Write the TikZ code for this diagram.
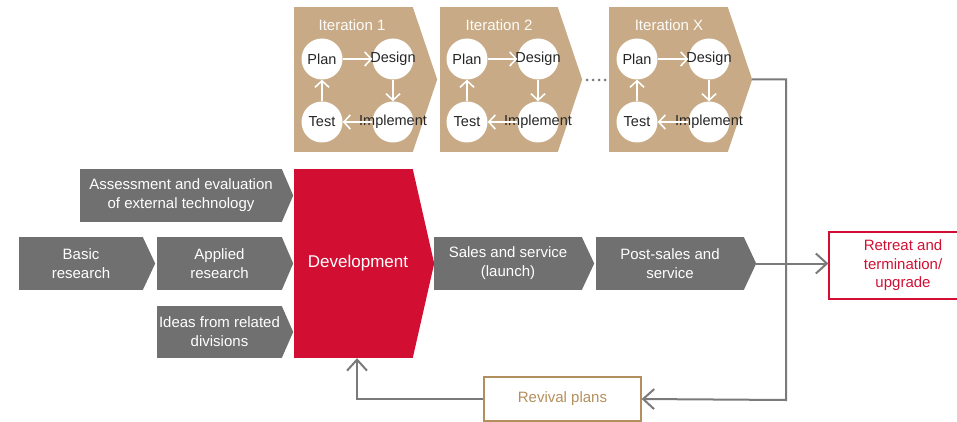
\documentclass[tikz,border=0pt]{standalone}
\usepackage{fontspec}
\setmainfont{Liberation Sans}
\usetikzlibrary{arrows.meta}

\definecolor{boxgray}{HTML}{707070}
\definecolor{devred}{HTML}{D20F33}
\definecolor{itertan}{HTML}{C8AB86}
\definecolor{revtan}{HTML}{B48F5E}
\definecolor{linegray}{HTML}{7A7A7A}

\tikzset{
  chevbox/.style={rectangle, inner sep=0pt, text=white, align=center,
    font=\fontsize{15}{19}\selectfont},
  stepcircle/.style={circle, fill=white, minimum size=41pt, inner sep=0pt},
  steplabel/.style={text=black!85, font=\fontsize{14.5}{17}\selectfont},
  iterlabel/.style={text=white!95!itertan, font=\fontsize{15}{18}\selectfont},
  looparrow/.style={draw=white, line width=1.6pt, -{Straight Barb[length=6.5pt,width=14pt]}},
  flow/.style={draw=linegray, line width=2pt, -{Straight Barb[length=11pt,width=20pt]}},
  endbox/.style={rectangle, line width=1.3pt, align=center,
    font=\fontsize{15}{18.5}\selectfont}
}

% name, left, top, right, bottom, tip, colour, text
\newcommand{\chevron}[8]{%
  \node[chevbox, fill=#7, minimum width=#4pt-#2pt, minimum height=#5pt-#3pt]
    (#1) at ({(#2+#4)/2},{(#3+#5)/2}) {#8};
  \fill[#7] ([xshift=-0.5pt]#1.north east) -- ([xshift=#6pt]#1.east)
    -- ([xshift=-0.5pt]#1.south east) -- cycle;
  \coordinate (#1-tip) at ([xshift=#6pt]#1.east);}

\begin{document}
\begin{tikzpicture}[x=1pt, y=-1pt]
  \useasboundingbox (0,0) rectangle (957,422);

  % Iteration 1
  \begin{scope}[xshift=294]
    \chevron{it1}{0}{7}{119}{152}{24}{itertan}{}
    \node[iterlabel] (lab1) at (58,25) {Iteration 1};
    \node[stepcircle, label={[steplabel]center:Plan}] (plan1) at (28,59) {};
    \node[stepcircle, label={[steplabel]center:Design}] (design1) at (99,59) {};
    \node[stepcircle, label={[steplabel]center:Test}] (test1) at (28,122) {};
    \node[stepcircle, label={[steplabel]center:Implement}] (impl1) at (99,122) {};
    \draw[looparrow] (plan1) -- (design1);
    \draw[looparrow] (design1) -- (impl1);
    \draw[looparrow] (impl1) -- (test1);
    \draw[looparrow] (test1) -- (plan1);
  \end{scope}

  % Iteration 2
  \begin{scope}[xshift=440]
    \chevron{it2}{0}{7}{118}{152}{24}{itertan}{}
    \node[iterlabel] (lab2) at (59,25) {Iteration 2};
    \node[stepcircle, label={[steplabel]center:Plan}] (plan2) at (27,59) {};
    \node[stepcircle, label={[steplabel]center:Design}] (design2) at (98,59) {};
    \node[stepcircle, label={[steplabel]center:Test}] (test2) at (27,122) {};
    \node[stepcircle, label={[steplabel]center:Implement}] (impl2) at (98,122) {};
    \draw[looparrow] (plan2) -- (design2);
    \draw[looparrow] (design2) -- (impl2);
    \draw[looparrow] (impl2) -- (test2);
    \draw[looparrow] (test2) -- (plan2);
  \end{scope}

  % dots between the iterations
  \foreach \x in {587,593,599,605}
    \fill[linegray] (\x,80) circle (1.5);

  % Iteration X
  \begin{scope}[xshift=609]
    \chevron{itX}{0}{7}{119}{152}{24}{itertan}{}
    \node[iterlabel] (labX) at (60,25) {Iteration X};
    \node[stepcircle, label={[steplabel]center:Plan}] (planX) at (28,59) {};
    \node[stepcircle, label={[steplabel]center:Design}] (designX) at (100,59) {};
    \node[stepcircle, label={[steplabel]center:Test}] (testX) at (28,122) {};
    \node[stepcircle, label={[steplabel]center:Implement}] (implX) at (100,122) {};
    \draw[looparrow] (planX) -- (designX);
    \draw[looparrow] (designX) -- (implX);
    \draw[looparrow] (implX) -- (testX);
    \draw[looparrow] (testX) -- (planX);
  \end{scope}

  % Research and inputs
  \chevron{basic}{19}{237}{143}{290}{12}{boxgray}{Basic\\research}
  \chevron{applied}{157}{237}{282}{290}{11}{boxgray}{Applied\\research}
  \chevron{assess}{80}{169}{282}{222}{11}{boxgray}{Assessment and evaluation\\of external technology}
  \chevron{ideas}{157}{306}{282}{358}{11}{boxgray}{Ideas from related\\divisions}

  % Development and market
  \chevron{dev}{294}{169}{413}{358}{21}{devred}{\fontsize{17}{20}\selectfont\hspace*{9pt}Development}
  \chevron{sales}{434}{237}{582}{290}{12}{boxgray}{Sales and service\\(launch)}
  \chevron{post}{596}{237}{744}{290}{12}{boxgray}{Post-sales and\\service}

  % End boxes
  \node[endbox, draw=devred, text=devred, minimum width=148pt, minimum height=67pt]
    (retreat) at (903,265.5) {Retreat and\\termination/\\upgrade};
  \node[endbox, draw=revtan, text=revtan, minimum width=157pt, minimum height=44pt]
    (revival) at (562.5,399) {Revival plans};

  % Connectors
  \coordinate (loopturn) at (786,400);
  \draw[flow] (itX-tip) -| (loopturn) -- (revival.east);
  \draw[flow] (post-tip) -- (post-tip -| retreat.west);
  \draw[flow] (revival.west) -| ([xshift=3.5pt]dev.south);

\end{tikzpicture}
\end{document}
